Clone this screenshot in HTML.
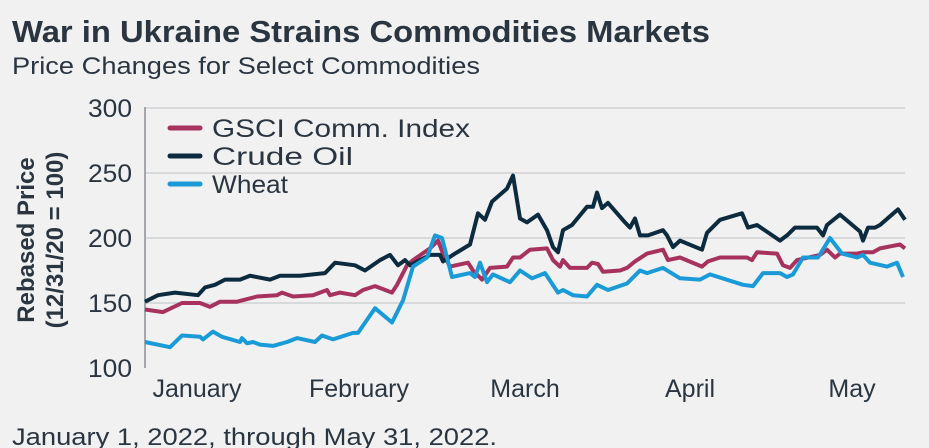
<!DOCTYPE html>
<html><head><meta charset="utf-8"><style>
body{margin:0;background:#f1f1f1;}
#c{position:relative;width:929px;height:448px;background:#f1f1f1;font-family:"Liberation Sans",sans-serif;color:#2b3540;overflow:hidden;}
</style></head><body>
<div id="c">
<svg id="s" width="929" height="448">
<text x="12" y="42" font-size="31" font-weight="bold" fill="#2b3540" textLength="698" lengthAdjust="spacingAndGlyphs">War in Ukraine Strains Commodities Markets</text>
<text x="12" y="74" font-size="24" fill="#2b3540" textLength="468" lengthAdjust="spacingAndGlyphs">Price Changes for Select Commodities</text>
<text x="12" y="445" font-size="24" fill="#2b3540" textLength="485" lengthAdjust="spacingAndGlyphs">January 1, 2022, through May 31, 2022.</text>
<g transform="translate(28,240) rotate(-90)">
<text x="0" y="6" text-anchor="middle" font-size="24" font-weight="bold" fill="#2b3540">Rebased Price</text>
<text x="0" y="35" text-anchor="middle" font-size="24" font-weight="bold" fill="#2b3540">(12/31/20 = 100)</text>
</g>
<g id="grid"></g><g id="series"></g><g id="legend"></g>
</svg>
</div>
<script>
const yTicks=[100,150,200,250,300];
const months=["January","February","March","April","May"];
const monthDays=[10.4,42.8,76,109,141.4];
const crudeDays=[0,2.6,6,10.6,12,14,16,19,21,25,27,31,36,38,42,44,47,49,50.6,52,53,57,59,59.6,62,65,66.6,68,69.4,72.4,73.6,75,76.4,78.6,80.4,81.6,82.6,83.6,85.4,88.4,89.6,90.4,91.4,92.6,96,97,98,99,100.6,103.6,104.4,105.6,107,111.4,112.4,115,119.4,120.6,122.4,127,128.4,130,134.4,135.6,136.4,139,143,143.6,144.6,146,147,150.6,152];
const crudeVals=[151,156,158,156,162,164,168,168,171,168,171,171,173,181,179,175,183,187,179,183,179,187,187,182,188,195,219,214,228,238,248,215,212,218,206,193,189,206,210,224,224,235,223,227,212,208,215,202,202,206,202,193,198,191,204,214,219,208,210,198,202,208,208,202,210,218,205,198,208,208,210,222,214];
const gsciDays=[0,3.6,7.4,11,13,15,18.4,22.4,26.4,27.4,29.6,33.6,36.4,37,39,42,43.6,46,49.4,50.4,52.4,53.6,57,58.6,59.6,61,64.6,65.6,67.4,69,72.4,73.6,75,77,80.4,81.6,83,83.6,85,88.4,89.4,90.6,91.6,95,96.4,98,100.4,103.6,104.6,107,111.4,112.6,115,120.4,121.4,122.4,126.4,127.6,129,130.4,135,136.4,138,139,142.4,143.6,145.6,147,151,152];
const gsciVals=[145,143,150,150,147,151,151,155,156,158,155,156,160,156,158,156,160,163,158,164,179,183,192,198,188,178,181,175,168,177,178,185,185,191,192,183,178,183,177,177,181,180,174,175,177,182,188,191,183,185,178,182,185,185,183,189,188,179,177,183,187,191,185,188,188,189,189,192,195,192];
const wheatDays=[0,5,7.4,11,11.6,13.6,15.4,19,19.4,20.4,21.6,23,25.6,28.4,30.4,34,35.4,37.6,41.6,42.6,46,49.4,51.6,53.6,56.4,58,59.4,61.4,65,66,67,68.4,69.6,73,75,77.4,80,82.6,83.6,85.6,88.4,90.4,92.6,96.4,99,100.4,103.6,107,111,113,119.6,121.6,123.6,127,128.4,129.6,131.6,134.6,137,139.4,142.4,143.6,145,148.4,150.4,151.6];
const wheatVals=[120,116,125,124,122,128,124,120,123,119,120,118,117,120,123,120,125,122,127,127,146,135,152,178,185,202,200,170,173,170,181,166,172,166,175,169,173,158,160,156,155,164,160,165,175,173,177,169,168,172,164,163,173,173,170,172,185,185,200,188,185,187,181,178,181,170];
const legendNames=["GSCI Comm. Index","Crude Oil","Wheat"];
const colors=["#a8325e","#0d2b3e","#1a9bd7"];
const NS="http://www.w3.org/2000/svg";
const x=d=>145+d*5;
const y=v=>368-(v-100)*1.3;
function mk(t,a,p){const e=document.createElementNS(NS,t);for(const k in a)e.setAttribute(k,a[k]);p.appendChild(e);return e;}
const g=document.getElementById('grid');
yTicks.forEach(v=>{
 if(v>100){const l=mk('line',{x1:145,x2:905,y1:y(v),y2:y(v),stroke:'#cfd1d4','stroke-width':1.5},g);
 
 }
 const t=mk('text',{x:132,y:y(v)+9,'text-anchor':'end','font-size':25,fill:'#2b3540',textLength:44,lengthAdjust:'spacingAndGlyphs'},g);t.textContent=v;
 
 
});
const ax=mk('line',{x1:145,x2:145,y1:107,y2:368,stroke:'#8a8f95','stroke-width':1.5},g);


months.forEach((m,i)=>{const t=mk('text',{x:x(monthDays[i]),y:397,'text-anchor':'middle','font-size':25,fill:'#2b3540'},g);t.textContent=m;
 
 });
const sg=document.getElementById('series');
const sets=[[gsciDays,gsciVals,'gsci-line'],[crudeDays,crudeVals,'crude-oil-line'],[wheatDays,wheatVals,'wheat-line']];
sets.forEach((s,i)=>{const pts=s[0].map((d,j)=>x(d).toFixed(1)+','+y(s[1][j]).toFixed(1)).join(' ');
 const p=mk('polyline',{points:pts,fill:'none',stroke:colors[i],'stroke-width':4,'stroke-linejoin':'round'},sg);
 
 });
const lg=document.getElementById('legend');
const lw=[258,141,76];
legendNames.forEach((n,i)=>{const yy=128+i*28;
 const l=mk('line',{x1:170,x2:200,y1:yy,y2:yy,stroke:colors[i],'stroke-width':5,'stroke-linecap':'round'},lg);
 
 
 const t=mk('text',{x:212,y:yy+9,'font-size':25,fill:'#2b3540',textLength:lw[i],lengthAdjust:'spacingAndGlyphs'},lg);t.textContent=n;
 
 });
</script>
</body></html>
